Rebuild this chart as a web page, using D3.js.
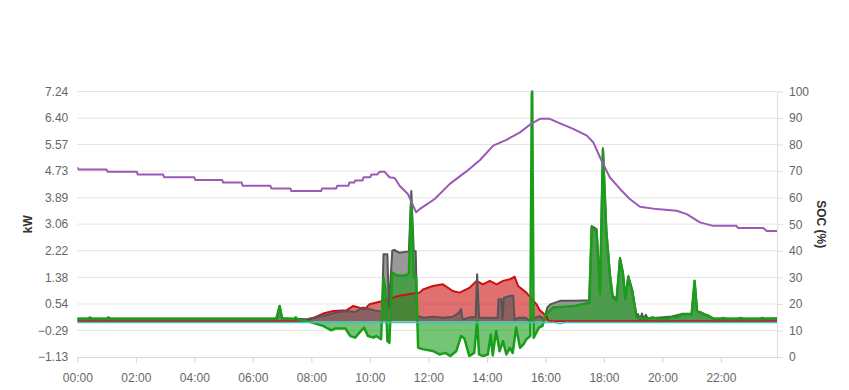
<!DOCTYPE html>
<html>
<head>
<meta charset="utf-8">
<script src="https://cdn.jsdelivr.net/npm/d3@7/dist/d3.min.js"></script>
<style>
  body { margin: 0; background: #fff; }
  svg { display: block; font-family: "Liberation Sans", Arial, sans-serif; }
</style>
</head>
<body>
<svg id="chart" width="849" height="390"></svg>
<script>
// axis ticks
const kwTicks = [-1.13, -0.29, 0.54, 1.38, 2.22, 3.06, 3.89, 4.73, 5.57, 6.40, 7.24];
const socTicks = [0, 10, 20, 30, 40, 50, 60, 70, 80, 90, 100];
const timeTicks = ["00:00", "02:00", "04:00", "06:00", "08:00", "10:00", "12:00", "14:00", "16:00", "18:00", "20:00", "22:00"];
const timeEnd = "23:55";

// battery state of charge (%)
const socPct = [
  ["00:00", 71.4], ["00:03", 70.6], ["01:00", 70.6], ["01:02", 69.8], ["02:02", 69.8], ["02:04", 68.7],
  ["02:56", 68.7], ["02:58", 67.7], ["04:00", 67.7], ["04:02", 66.7], ["04:57", 66.7], ["04:59", 65.7],
  ["05:37", 65.7], ["05:39", 64.5], ["06:36", 64.5], ["06:38", 63.5], ["07:17", 63.5], ["07:19", 62.5],
  ["08:20", 62.5], ["08:22", 63.5], ["08:51", 63.5], ["08:53", 64.5], ["09:16", 64.5], ["09:18", 65.7],
  ["09:28", 65.7], ["09:30", 66.5], ["09:45", 66.5], ["09:47", 67.7], ["10:01", 67.7], ["10:03", 68.7],
  ["10:15", 68.7], ["10:20", 69.8], ["10:30", 69.8], ["10:40", 67.7], ["10:51", 67.4], ["11:01", 64.5],
  ["11:18", 61.4], ["11:35", 54.5], ["11:42", 55.7], ["11:56", 57.4], ["12:13", 59.5], ["12:44", 65.2],
  ["13:18", 69.9], ["13:46", 74.2], ["14:13", 79.6], ["14:40", 81.8], ["15:08", 84.6], ["15:28", 87.5],
  ["15:49", 89.7], ["16:09", 89.7], ["16:30", 88.0], ["16:57", 85.9], ["17:25", 83.4], ["17:38", 80.9],
  ["17:55", 74.0], ["18:12", 67.7], ["18:33", 63.3], ["18:53", 59.5], ["19:14", 56.6], ["19:48", 55.7],
  ["20:29", 55.1], ["20:50", 53.8], ["21:17", 50.7], ["21:44", 49.4], ["22:32", 49.4], ["22:35", 48.6],
  ["23:27", 48.6], ["23:34", 47.5], ["23:55", 47.5]
];

// solar production (kW)
const pvKw = [
  ["00:00", 0], ["07:45", 0], ["07:50", 0.02], ["08:02", 0.09], ["08:24", 0.24], ["08:45", 0.32],
  ["09:12", 0.34], ["09:26", 0.48], ["09:49", 0.38], ["09:59", 0.53], ["10:20", 0.61], ["10:40", 0.7],
  ["11:00", 0.8], ["11:42", 0.9], ["11:49", 1.0], ["12:09", 1.11], ["12:30", 1.16], ["12:50", 0.95],
  ["13:04", 0.9], ["13:25", 1.06], ["13:39", 1.27], ["13:52", 1.16], ["14:06", 1.27], ["14:20", 1.16],
  ["14:33", 1.27], ["14:47", 1.32], ["14:57", 1.4], ["15:04", 1.11], ["15:21", 0.9], ["15:42", 0.53],
  ["15:48", 0.35], ["16:02", 0.16], ["16:06", 0.02], ["16:10", 0], ["23:55", 0]
];

// house load (kW)
const loadKw = [
  ["00:00", 0.08], ["06:50", 0.08], ["06:55", 0.48], ["07:00", 0.09], ["07:50", 0.06], ["08:24", 0.16],
  ["08:50", 0.27], ["09:10", 0.32], ["09:30", 0.29], ["09:45", 0.43], ["10:10", 0.34], ["10:25", 0.3],
  ["10:28", 2.11], ["10:36", 2.11], ["10:39", 0.4], ["10:46", 2.22], ["10:50", 2.25], ["11:00", 2.16],
  ["11:20", 2.2], ["11:25", 4.1], ["11:30", 2.2], ["11:34", 2.2], ["11:37", 0.16], ["11:50", 0.11],
  ["12:10", 0.14], ["12:30", 0.11], ["12:50", 0.14], ["13:03", 0.27], ["13:07", 0.38], ["13:10", 0.05],
  ["13:25", 0.12], ["13:37", 0.12], ["13:40", 1.48], ["13:44", 0.11], ["14:00", 0.11], ["14:22", 0.1],
  ["14:24", 0.69], ["14:30", 0.69], ["14:32", 0.06], ["14:35", 0.74], ["14:50", 0.8], ["14:54", 0.8],
  ["14:57", 0.03], ["15:05", 0.11], ["15:20", 0.11], ["15:25", 0.03], ["15:48", 0.16], ["15:58", 0.06],
  ["16:00", 0.2], ["16:04", 0.43], ["16:10", 0.53], ["16:30", 0.64], ["17:00", 0.64], ["17:30", 0.66],
  ["17:35", 3.0], ["17:45", 2.9], ["17:52", 0.95], ["17:58", 5.45], ["18:05", 2.9], ["18:12", 1.55],
  ["18:18", 0.8], ["18:26", 0.7], ["18:33", 2.0], ["18:39", 1.55], ["18:44", 0.75], ["18:50", 1.42],
  ["18:58", 1.0], ["19:07", 0.15], ["19:10", 0.22], ["19:14", 0.05], ["19:18", 0.24], ["19:22", 0.06],
  ["19:26", 0.2], ["19:30", 0.08], ["20:20", 0.15], ["20:40", 0.23], ["21:00", 0.23], ["21:06", 1.27],
  ["21:11", 0.33], ["21:25", 0.23], ["21:35", 0.17], ["21:45", 0.08], ["23:55", 0.08]
];

// battery power, + discharge / - charge (kW)
const batteryKw = [
  ["00:00", 0.07], ["00:22", 0.07], ["00:26", 0.12], ["00:30", 0.07], ["01:00", 0.07], ["01:04", 0.12],
  ["01:08", 0.07], ["06:48", 0.07], ["06:55", 0.48], ["07:00", 0.08], ["07:24", 0.07], ["07:28", 0.12],
  ["07:33", 0.05], ["07:50", 0.0], ["08:03", -0.05], ["08:24", -0.15], ["08:41", -0.29], ["08:50", -0.23],
  ["09:10", -0.23], ["09:20", -0.47], ["09:30", -0.52], ["09:36", -0.41], ["09:48", -0.2], ["09:56", -0.47],
  ["10:08", -0.52], ["10:13", -0.47], ["10:23", -0.57], ["10:28", 1.37], ["10:32", 1.0], ["10:36", -0.63],
  ["10:40", -0.68], ["10:46", 1.53], ["10:55", 1.45], ["11:10", 1.43], ["11:20", 1.5], ["11:25", 3.8],
  ["11:30", 1.4], ["11:35", 1.37], ["11:39", -0.84], ["11:50", -0.89], ["12:09", -0.94], ["12:23", -1.05],
  ["12:35", -1.0], ["12:45", -1.1], ["12:57", -0.95], ["13:07", -0.47], ["13:14", -0.55], ["13:24", -1.1],
  ["13:34", -1.0], ["13:40", 0.0], ["13:44", -1.05], ["13:52", -1.1], ["14:02", -1.05], ["14:08", -0.42],
  ["14:12", -1.08], ["14:19", -0.31], ["14:26", -0.95], ["14:33", -0.63], ["14:40", -1.05], ["14:47", -0.84],
  ["14:53", -1.0], ["15:00", -0.2], ["15:08", -0.84], ["15:15", -0.73], ["15:21", -0.57], ["15:29", -0.47],
  ["15:32", 7.15], ["15:33", 7.24], ["15:36", -0.52], ["15:47", -0.2], ["15:54", -0.15], ["16:00", 0.2],
  ["16:05", 0.27], ["16:15", 0.43], ["16:30", 0.45], ["17:00", 0.48], ["17:30", 0.58], ["17:35", 2.95],
  ["17:45", 2.85], ["17:52", 0.85], ["17:58", 5.4], ["18:05", 2.8], ["18:12", 1.48], ["18:18", 0.74],
  ["18:26", 0.64], ["18:33", 1.95], ["18:39", 1.48], ["18:44", 0.69], ["18:50", 1.37], ["18:58", 0.95],
  ["19:07", 0.11], ["19:15", 0.1], ["19:30", 0.08], ["19:40", 0.12], ["19:50", 0.07], ["20:10", 0.07],
  ["20:20", 0.14], ["20:30", 0.12], ["20:40", 0.22], ["21:00", 0.22], ["21:06", 1.27], ["21:11", 0.32],
  ["21:25", 0.22], ["21:35", 0.16], ["21:45", 0.07], ["22:00", 0.07], ["22:05", 0.1], ["22:10", 0.07],
  ["22:35", 0.07], ["22:40", 0.1], ["22:45", 0.07], ["23:20", 0.07], ["23:25", 0.1], ["23:30", 0.07],
  ["23:55", 0.08]
];

// grid exchange (kW)
const gridKw = [["00:00", -0.04], ["16:20", -0.04], ["16:30", -0.08], ["16:40", -0.04], ["23:55", -0.04]];

const toMin = s => { const p = s.split(":"); return +p[0] * 60 + +p[1]; };

const svg = d3.select("#chart");
const margin = { top: 91.5, right: 72, left: 77.3, bottom: 33 };
const width = 849 - margin.left - margin.right;
const height = 390 - margin.top - margin.bottom;

const g = svg.append("g")
  .attr("transform", "translate(" + margin.left + "," + margin.top + ")");

let x = d3.scaleLinear().domain([0, toMin(timeEnd)]).range([0, width]);
let y = d3.scaleLinear().domain([kwTicks[0], kwTicks[kwTicks.length - 1]]).range([height, 0]);
let ySoc = d3.scaleLinear().domain([0, 100]).range([height, 0]);

// grid lines
g.append("g").selectAll("line")
  .data(kwTicks.slice(1))
  .enter().append("line")
  .attr("x1", 0).attr("x2", width)
  .attr("y1", d => y(d)).attr("y2", d => y(d))
  .attr("stroke", "#e4e4e4").attr("stroke-width", 1);

// left axis (labels only)
let yAxisCall = d3.axisLeft(y).tickValues(kwTicks).tickFormat(d3.format(".2f")).tickSize(0).tickPadding(9);
let yAxisGroup = g.append("g").call(yAxisCall);
yAxisGroup.select(".domain").remove();
yAxisGroup.selectAll("text").attr("fill", "#666").attr("font-size", "12px")
  .attr("font-family", "Liberation Sans, Arial, sans-serif");

// right axis
let socAxisCall = d3.axisRight(ySoc).tickValues(socTicks).tickSize(6).tickPadding(6).tickSizeOuter(0);
let socAxisGroup = g.append("g").attr("transform", "translate(" + width + ",0)").call(socAxisCall);
socAxisGroup.select(".domain").attr("stroke", "#ddd");
socAxisGroup.selectAll(".tick line").attr("stroke", "#ddd");
socAxisGroup.selectAll("text").attr("fill", "#666").attr("font-size", "12px")
  .attr("font-family", "Liberation Sans, Arial, sans-serif");

// x axis
let xAxisCall = d3.axisBottom(x).tickValues(timeTicks.map(toMin))
  .tickFormat((d, i) => timeTicks[i]).tickSize(6).tickPadding(10).tickSizeOuter(0);
let xAxisGroup = g.append("g").attr("transform", "translate(0," + height + ")").call(xAxisCall);
xAxisGroup.select(".domain").attr("stroke", "#d6d6d6");
xAxisGroup.selectAll(".tick line").attr("stroke", "#d6d6d6");
xAxisGroup.selectAll("text").attr("fill", "#666").attr("font-size", "12px")
  .attr("font-family", "Liberation Sans, Arial, sans-serif");

// axis titles
g.append("text")
  .attr("transform", "translate(" + (28 - margin.left) + "," + (height / 2) + ") rotate(-90)")
  .attr("text-anchor", "middle").attr("dy", "0.35em")
  .attr("font-size", "12px").attr("font-weight", "bold").attr("fill", "#333")
  .text("kW");
g.append("text")
  .attr("transform", "translate(" + (821 - margin.left) + "," + (height / 2) + ") rotate(90)")
  .attr("text-anchor", "middle").attr("dy", "0.35em")
  .attr("font-size", "12px").attr("font-weight", "bold").attr("fill", "#333")
  .text("SOC (%)");

// clip
svg.append("defs").append("clipPath").attr("id", "plot")
  .append("rect").attr("x", 0).attr("y", -2).attr("width", width).attr("height", height + 2);
const plot = g.append("g").attr("clip-path", "url(#plot)");

const area = d3.area().x(d => x(toMin(d[0]))).y0(y(0)).y1(d => y(d[1]));
const line = d3.line().x(d => x(toMin(d[0]))).y(d => y(d[1]));

const kwSeries = [
  { data: pvKw, stroke: "#cc1111", fill: "#cc1111", w: 2 },
  { data: loadKw, stroke: "#555555", fill: "#555555", w: 2 },
  { data: batteryKw, stroke: "#1a9e1a", fill: "#1a9e1a", w: 2.5 }
];

kwSeries.forEach(s => {
  plot.append("path").datum(s.data)
    .attr("d", area).attr("fill", s.fill).attr("fill-opacity", 0.6);
});
kwSeries.forEach(s => {
  plot.append("path").datum(s.data)
    .attr("d", line).attr("fill", "none").attr("stroke", s.stroke)
    .attr("stroke-width", s.w).attr("stroke-linejoin", "round");
});

// grid line drawn over the areas
plot.append("path").datum(gridKw)
  .attr("d", line).attr("fill", "none").attr("stroke", "#3fbfcf").attr("stroke-width", 1.5);

plot.append("path").datum(socPct)
  .attr("d", d3.line().x(d => x(toMin(d[0]))).y(d => ySoc(d[1])))
  .attr("fill", "none").attr("stroke", "#9b59b6").attr("stroke-width", 2).attr("stroke-linejoin", "round");
</script>
</body>
</html>
